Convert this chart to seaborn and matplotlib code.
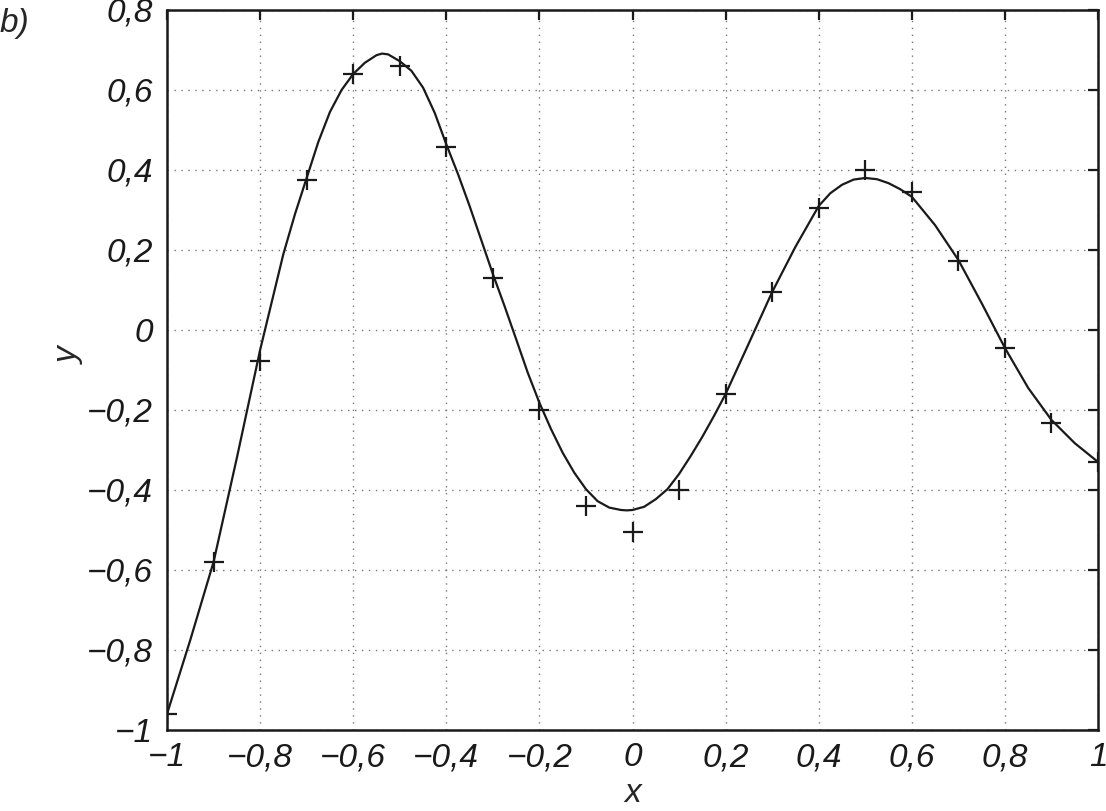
import numpy as np
import pandas as pd
import matplotlib
matplotlib.use("Agg")
import matplotlib.pyplot as plt
import seaborn as sns

# measured points (crosses)
pts_x = [-1.0, -0.9, -0.8, -0.7, -0.6, -0.5, -0.4, -0.3, -0.2, -0.1, 0.0,
         0.1, 0.2, 0.3, 0.4, 0.5, 0.6, 0.7, 0.8, 0.9, 1.0]
pts_y = [-0.96, -0.58, -0.077, 0.375, 0.64, 0.66, 0.457, 0.13, -0.20, -0.44, -0.505,
         -0.40, -0.16, 0.095, 0.305, 0.40, 0.345, 0.173, -0.045, -0.232, -0.33]

# fitted curve
curve_x = [-1.0, -0.95, -0.9, -0.85, -0.8, -0.775, -0.75, -0.725, -0.7, -0.675, -0.65,
           -0.625, -0.6, -0.575, -0.55, -0.538, -0.525, -0.5, -0.475, -0.45, -0.425,
           -0.4, -0.375, -0.35, -0.325, -0.3, -0.275, -0.25, -0.225, -0.2, -0.175,
           -0.15, -0.125, -0.1, -0.075, -0.05, -0.025, -0.012, 0.0, 0.025, 0.05,
           0.075, 0.1, 0.125, 0.15, 0.175, 0.2, 0.25, 0.3, 0.35, 0.4, 0.425, 0.45,
           0.475, 0.5, 0.525, 0.55, 0.575, 0.6, 0.65, 0.7, 0.75, 0.8, 0.85, 0.9,
           0.95, 1.0]
curve_y = [-0.96, -0.775, -0.58, -0.32, -0.05, 0.07, 0.19, 0.29, 0.38, 0.47, 0.545,
           0.60, 0.64, 0.668, 0.687, 0.691, 0.689, 0.672, 0.648, 0.606, 0.543,
           0.464, 0.39, 0.31, 0.225, 0.14, 0.06, -0.023, -0.107, -0.182, -0.248,
           -0.307, -0.357, -0.398, -0.428, -0.444, -0.45, -0.451, -0.45, -0.442, -0.423,
           -0.398, -0.36, -0.315, -0.267, -0.215, -0.16, -0.033, 0.095, 0.208, 0.31, 0.342, 0.363,
           0.376, 0.38, 0.377, 0.367, 0.352, 0.333, 0.262, 0.175, 0.067, -0.045, -0.145, -0.225,
           -0.283, -0.33]

x_ticks = [-1, -0.8, -0.6, -0.4, -0.2, 0, 0.2, 0.4, 0.6, 0.8, 1]
x_labels = ["\u22121", "\u22120,8", "\u22120,6", "\u22120,4", "\u22120,2", "0",
            "0,2", "0,4", "0,6", "0,8", "1"]
y_ticks = [-1, -0.8, -0.6, -0.4, -0.2, 0, 0.2, 0.4, 0.6, 0.8]
y_labels = ["\u22121", "\u22120,8", "\u22120,6", "\u22120,4", "\u22120,2", "0",
            "0,2", "0,4", "0,6", "0,8"]

sns.set_style("white")
plt.rcParams["font.family"] = ["Liberation Sans", "DejaVu Sans"]
plt.rcParams["font.style"] = "italic"

curve = pd.DataFrame({"x": curve_x, "y": curve_y})
pts = pd.DataFrame({"x": pts_x, "y": pts_y})

fig = plt.figure(figsize=(11.06, 8.11), dpi=100)
ax = fig.add_axes([0.151, 0.0999, 0.8418, 0.8878])

sns.lineplot(data=curve, x="x", y="y", ax=ax, color="#1a1a1a", linewidth=1.6,
             sort=False, estimator=None)
sns.scatterplot(data=pts, x="x", y="y", ax=ax, marker="+", s=210, color="#1a1a1a",
                linewidth=1.6, zorder=3)

ax.set_xlim(-1, 1)
ax.set_ylim(-1, 0.8)
ax.set_xticks(x_ticks)
ax.set_xticklabels(x_labels)
ax.set_yticks(y_ticks)
ax.set_yticklabels(y_labels)

ax.grid(True, linestyle=(0, (1, 4)), color="#777777", linewidth=1.0)
for s in ax.spines.values():
    s.set_visible(True)
    s.set_color("#1a1a1a")
    s.set_linewidth(1.8)

ax.tick_params(axis="both", which="both", direction="in", length=7, width=1.6,
               top=True, right=True, labelsize=24, colors="#1a1a1a")
ax.tick_params(axis="x", pad=9)
ax.tick_params(axis="y", pad=10)

ax.set_xlabel("x", fontsize=24, style="italic")
ax.set_ylabel("y", fontsize=24, style="italic")
ax.xaxis.set_label_coords(0.5, -0.066)
ax.yaxis.set_label_coords(-0.088, 0.52)

fig.text(0.0, 0.99, "b)", fontsize=24, style="italic", va="top", ha="left")

fig.savefig("out.png", dpi=100)
